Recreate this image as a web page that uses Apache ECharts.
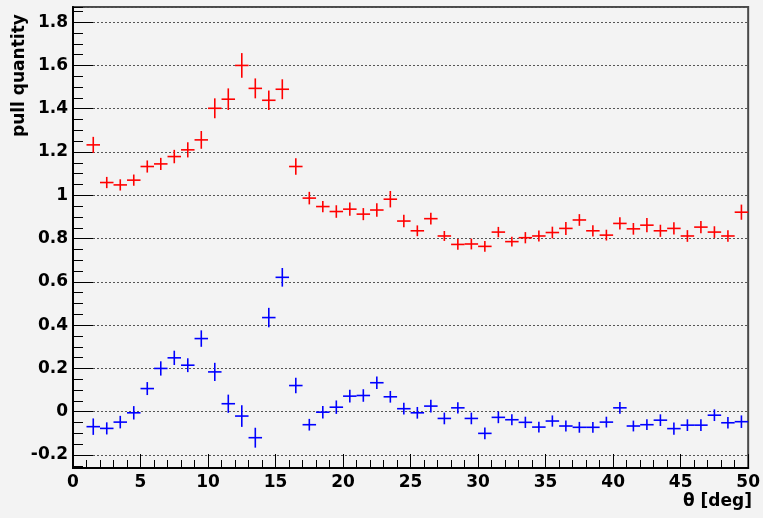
<!DOCTYPE html>
<html><head><meta charset="utf-8">
<script src="https://cdn.jsdelivr.net/npm/echarts@6/dist/echarts.min.js"></script>
<style>html,body{margin:0;padding:0;background:#f3f3f3}#c{width:763px;height:518px}</style>
</head><body><div id="c"></div>
<script>
const theta = [1.5,2.5,3.5,4.5,5.5,6.5,7.5,8.5,9.5,10.5,11.5,12.5,13.5,14.5,15.5,16.5,17.5,18.5,19.5,20.5,21.5,22.5,23.5,24.5,25.5,26.5,27.5,28.5,29.5,30.5,31.5,32.5,33.5,34.5,35.5,36.5,37.5,38.5,39.5,40.5,41.5,42.5,43.5,44.5,45.5,46.5,47.5,48.5,49.5];
const redPull = [1.233,1.059,1.048,1.070,1.133,1.145,1.179,1.210,1.256,1.402,1.444,1.600,1.494,1.439,1.490,1.133,0.987,0.948,0.925,0.936,0.913,0.932,0.982,0.881,0.836,0.892,0.812,0.773,0.775,0.764,0.830,0.786,0.804,0.812,0.828,0.847,0.886,0.836,0.816,0.870,0.845,0.862,0.836,0.847,0.812,0.853,0.830,0.812,0.922];
const redErr = [0.037,0.026,0.026,0.026,0.028,0.028,0.031,0.035,0.041,0.046,0.050,0.057,0.046,0.045,0.046,0.038,0.029,0.026,0.029,0.031,0.028,0.031,0.038,0.029,0.025,0.027,0.023,0.025,0.025,0.025,0.024,0.023,0.026,0.025,0.027,0.030,0.027,0.026,0.025,0.028,0.027,0.033,0.028,0.028,0.027,0.028,0.027,0.027,0.035];
const bluePull = [-0.069,-0.077,-0.048,-0.005,0.107,0.200,0.249,0.215,0.338,0.184,0.037,-0.020,-0.120,0.435,0.621,0.121,-0.060,-0.002,0.021,0.072,0.075,0.134,0.069,0.014,-0.005,0.026,-0.031,0.018,-0.031,-0.100,-0.026,-0.037,-0.049,-0.071,-0.043,-0.066,-0.072,-0.072,-0.048,0.018,-0.066,-0.060,-0.039,-0.078,-0.062,-0.062,-0.016,-0.051,-0.046];
const blueErr = [0.038,0.028,0.029,0.031,0.030,0.033,0.033,0.032,0.038,0.042,0.042,0.050,0.046,0.045,0.043,0.036,0.027,0.029,0.031,0.029,0.029,0.029,0.027,0.027,0.027,0.029,0.027,0.026,0.027,0.027,0.027,0.025,0.026,0.025,0.026,0.025,0.025,0.025,0.025,0.027,0.025,0.025,0.027,0.028,0.027,0.027,0.027,0.027,0.029];
const binHalfWidth = 0.5;
const xRange = [0, 50], xStep = 5;
const yRange = [-0.26, 1.87], yStep = 0.2, yMinorStep = 0.05;
const xTitle = 'θ [deg]';
const yTitle = 'pull quantity';

const font = {fontFamily: 'DejaVu Sans', fontWeight: 'bold', fontSize: 17, color: '#000'};

function crossItem(color) {
  return function (params, api) {
    const x = api.value(0), y = api.value(1), e = api.value(2);
    const l = api.coord([x - binHalfWidth, y]);
    const r = api.coord([x + binHalfWidth, y]);
    const t = api.coord([x, y + e]);
    const b = api.coord([x, y - e]);
    return {type: 'group', children: [
      {type: 'line', shape: {x1: l[0], y1: l[1], x2: r[0], y2: r[1]}, style: {stroke: color, lineWidth: 1.6}},
      {type: 'line', shape: {x1: t[0], y1: t[1], x2: b[0], y2: b[1]}, style: {stroke: color, lineWidth: 1.6}}
    ]};
  };
}

const chart = echarts.init(document.getElementById('c'));
chart.setOption({
  animation: false,
  backgroundColor: '#f3f3f3',
  grid: {left: 73, right: 11, top: 7, bottom: 50, show: true, borderColor: '#4a4a4a', borderWidth: 2, backgroundColor: 'transparent'},
  xAxis: [{
    type: 'value', min: xRange[0], max: xRange[1], interval: xStep, position: 'bottom',
    axisLine: {show: true, onZero: false, lineStyle: {color: '#000', width: 2}},
    axisTick: {show: true, inside: true, length: 14, lineStyle: {color: '#000', width: 1}},
    minorTick: {show: true, splitNumber: 5, length: 8, lineStyle: {color: '#000', width: 1}},
    axisLabel: Object.assign({margin: 6}, font),
    splitLine: {show: false}
  }],
  yAxis: [{
    type: 'value', min: yRange[0], max: yRange[1], minInterval: yStep, maxInterval: yStep, splitNumber: 10, position: 'left',
    axisLine: {show: true, onZero: false, lineStyle: {color: '#000', width: 2}},
    axisTick: {show: true, inside: true, length: 20, lineStyle: {color: '#000', width: 1}},
    axisLabel: Object.assign({margin: 5, showMinLabel: false, showMaxLabel: false}, font),
    splitLine: {show: true, lineStyle: {color: '#555', width: 1, type: [2, 2]}}
  }, {
    type: 'value', min: yRange[0], max: yRange[1], minInterval: yMinorStep, maxInterval: yMinorStep, splitNumber: 40, position: 'left',
    axisLine: {show: false, onZero: false},
    axisTick: {show: true, inside: true, length: 10, lineStyle: {color: '#000', width: 1}},
    axisLabel: {show: false},
    splitLine: {show: false}
  }],
  graphic: [
    {type: 'text', x: 20, y: 137, rotation: Math.PI / 2,
     style: {text: yTitle, align: 'left', verticalAlign: 'middle', fill: '#000', font: 'bold 17px "DejaVu Sans"'}},
    {type: 'text', right: 11, top: 493,
     style: {text: xTitle, fill: '#000', font: 'bold 17px "DejaVu Sans"'}}
  ],
  series: [{
    type: 'custom', name: 'red', xAxisIndex: 0, yAxisIndex: 0,
    renderItem: crossItem('#ff0000'),
    encode: {x: 0, y: 1},
    data: theta.map((t, i) => [t, redPull[i], redErr[i]])
  }, {
    type: 'custom', name: 'blue', xAxisIndex: 0, yAxisIndex: 0,
    renderItem: crossItem('#0000ff'),
    encode: {x: 0, y: 1},
    data: theta.map((t, i) => [t, bluePull[i], blueErr[i]])
  }]
});
</script></body></html>
